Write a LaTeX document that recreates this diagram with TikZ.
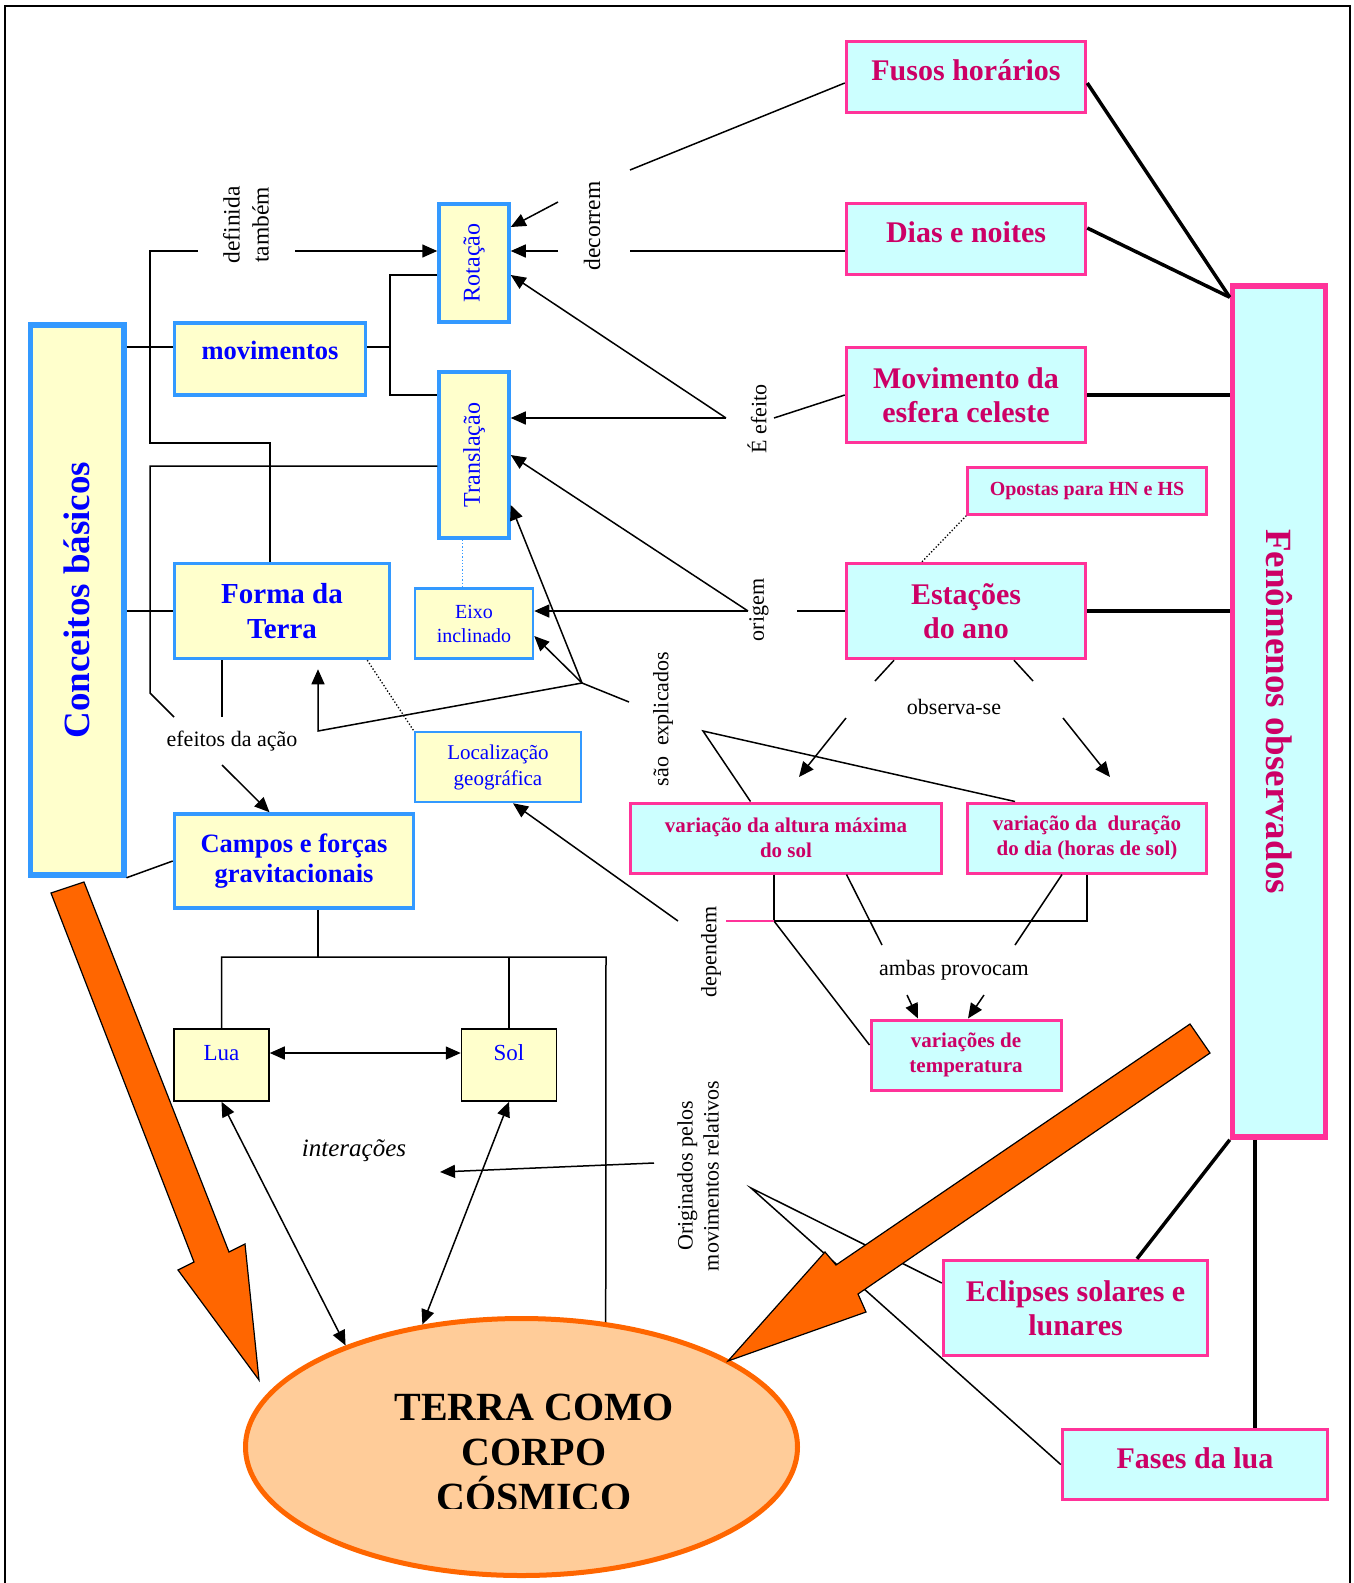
\documentclass[tikz,border=0pt]{standalone}
\usepackage{fontspec}
\setmainfont{Liberation Serif}
\usepackage{graphicx}
\usetikzlibrary{arrows.meta,positioning,shapes.geometric}
\definecolor{pinkline}{HTML}{FF3399}
\definecolor{pinktext}{HTML}{CC0066}
\definecolor{aqua}{HTML}{CCFFFF}
\definecolor{blueline}{HTML}{3399FF}
\definecolor{bluetext}{HTML}{0000FF}
\definecolor{cream}{HTML}{FFFFCC}
\definecolor{peach}{HTML}{FFCC99}
\definecolor{flame}{HTML}{FF6600}
\newcommand{\setfs}[2]{\fontsize{#1}{#2}\selectfont}

\begin{document}
\begin{tikzpicture}[x=1pt, y=-1pt,
    wh/.style 2 args={minimum width=#1, minimum height=#2},
    fenom/.style={draw=pinkline, fill=aqua, line width=3.5pt, text=pinktext, align=center, inner sep=0pt, font=\setfs{30}{34}\bfseries},
    conc/.style={draw=blueline, fill=cream, line width=3.5pt, text=bluetext, align=center, inner sep=0pt, font=\setfs{26.5}{30}\bfseries},
    body/.style={draw, fill=cream, line width=1.5pt, text=bluetext, inner sep=0pt, font=\setfs{23}{27}},
    linker/.style={text=black, inner sep=0pt, align=center, font=\setfs{22}{26}},
    link/.style={line width=1.5pt},
    arr/.style={link, -{Triangle[length=15pt,width=13pt]}},
    dual/.style={link, {Triangle[length=15pt,width=13pt]}-{Triangle[length=15pt,width=13pt]}},
    heavy/.style={line width=3.5pt},
    bigarrow/.style={fill=flame, draw=black, line width=1.2pt, line join=miter}
]
    \useasboundingbox (0,0) rectangle (1353,1583);
    \draw[line width=1.5pt] (5,1583) -- (5,6) -- (1350,6) -- (1350,1583);

    % fenomenos observados
    \node[fenom, wh={239pt}{71pt}, text height=21pt, text depth=14pt] (fusos) at (966,77) {Fusos horários};
    \node[fenom, wh={239pt}{71pt}, text height=21pt, text depth=14pt] (dias) at (966,239) {Dias e noites};
    \node[fenom, wh={239pt}{95pt}] (esfera) at (966,395) {Movimento da\\esfera celeste};
    \node[fenom, wh={239pt}{47pt}, line width=2.5pt, font=\setfs{20}{24}\bfseries] (opostas) at (1087,491) {Opostas para HN e HS};
    \node[fenom, wh={239pt}{95pt}] (estacoes) at (966,611) {Estações\\do ano};
    \node[fenom, wh={311pt}{70pt}, line width=3pt, font=\setfs{21}{24.5}\bfseries] (altura) at (786,838) {variação da altura máxima\\do sol};
    \node[fenom, wh={239pt}{70pt}, line width=3pt, font=\setfs{21}{24.5}\bfseries] (duracao) at (1087,838) {variação da\ \ duração\\do dia (horas de sol)};
    \node[fenom, wh={190pt}{70pt}, line width=3pt, font=\setfs{21}{25}\bfseries] (temperatura) at (966,1055) {variações de\\temperatura};
    \node[fenom, wh={93pt}{851pt}, line width=5.5pt, font=\setfs{37}{40}\bfseries] (fenomenos) at (1279,711.5) {\rotatebox{-90}{Fenômenos observados}};
    \node[fenom, wh={264pt}{95pt}] (eclipses) at (1075.5,1308) {Eclipses solares e\\lunares};
    \node[fenom, wh={265pt}{70pt}, text height=21pt, text depth=14pt] (fases) at (1195,1464.5) {Fases da lua};

    % conceitos basicos
    \node[conc, wh={93.5pt}{550pt}, line width=5.5pt, font=\setfs{37}{40}\bfseries] (conceitos) at (77,600) {\rotatebox{90}{Conceitos básicos}};
    \node[conc, wh={191pt}{72pt}, text height=18pt, text depth=18pt] (movimentos) at (270,359) {movimentos};
    \node[conc, wh={70pt}{118pt}, font=\setfs{24}{28}] (rotacao) at (474,263) {\rotatebox{90}{Rotação}};
    \node[conc, wh={70pt}{166pt}, font=\setfs{24}{28}] (translacao) at (474,455) {\rotatebox{90}{Translação}};
    \node[conc, wh={215pt}{95pt}, font=\setfs{29}{35}\bfseries] (forma) at (282,611) {Forma da\\Terra};
    \node[conc, wh={118pt}{70pt}, line width=2.5pt, font=\setfs{20}{24}] (eixo) at (474,623.5) {Eixo\\inclinado};
    \node[conc, wh={166pt}{70pt}, line width=2.5pt, font=\setfs{21}{26}] (localizacao) at (498,767) {Localização\\geográfica};
    \node[conc, wh={239pt}{94pt}] (campos) at (294,861) {Campos e forças\\gravitacionais};
    \node[body, wh={95pt}{72pt}, text height=16pt, text depth=25pt] (lua) at (221.5,1065) {Lua};
    \node[body, wh={95pt}{72pt}, text height=16pt, text depth=25pt, right=191pt of lua] (sol) {Sol};

    \node[ellipse, draw=flame, fill=peach, line width=5pt, wh={552pt}{257pt}] (terra) at (521.5,1447) {};
    \begin{scope}
        \clip (240,1300) rectangle (805,1508);
        \node[font=\setfs{40}{45}\bfseries, align=center, inner sep=0pt] (terralabel) at (534,1452) {TERRA COMO\\CORPO\\CÓSMICO};
    \end{scope}

    % frases de ligacao
    \node[linker, rotate=90, font=\setfs{23.5}{29}] (definida) at (246,225) {definida\\também};
    \node[linker, rotate=90, font=\setfs{23.5}{28}] (decorrem) at (592,226) {decorrem};
    \node[linker, rotate=90] (efeito) at (757,419) {É efeito};
    \node[linker, rotate=90] (origem) at (759,610) {origem};
    \node[linker, rotate=90] (explicados) at (663,719) {são\ \ explicados};
    \node[linker] (observa) at (954,707) {observa-se};
    \node[linker] (efeitos) at (232,741) {efeitos da ação};
    \node[linker] (ambas) at (954,970) {ambas provocam};
    \node[linker, rotate=90] (dependem) at (711,952) {dependem};
    \node[linker, rotate=90] (originados) at (698,1176) {Originados pelos\\movimentos relativos};
    \node[linker, font=\setfs{25}{28}\itshape] (interacoes) at (354,1151) {interações};

    % definida tambem
    \coordinate (defA) at (270,443);
    \coordinate (defB) at (150,443);
    \coordinate (defC) at (150,251);
    \coordinate (defD) at (198,251);
    \coordinate (defE) at (295,251);
    \draw[link] (forma.north -| defA) -- (defA) -- (defB) -- (defC) -- (defD);
    \draw[arr] (defE) -- (rotacao.west |- defE);

    % movimentos
    \coordinate (movA) at (390,347);
    \coordinate (movB) at (390,275);
    \coordinate (movC) at (390,395);
    \draw[link] (conceitos.east |- movA) -- (movimentos.west |- movA);
    \draw[link] (movimentos.east |- movA) -- (movA);
    \draw[link] (rotacao.west |- movB) -- (movB) -- (movC) -- (translacao.west |- movC);
    \draw[link] (conceitos.east |- forma.west) -- (forma.west);
    \draw[link] (conceitos.south east) -- (campos.west);

    % efeitos da acao
    \coordinate (efA) at (150,466);
    \coordinate (efB) at (150,693);
    \coordinate (efC) at (174,717);
    \coordinate (efD) at (222,717);
    \coordinate (efE) at (222,765);
    \draw[link] (translacao.west |- efA) -- (efA) -- (efB) -- (efC);
    \draw[link] (forma.south -| efD) -- (efD);
    \draw[arr] (efE) -- ([xshift=-24.5pt]campos.north);

    % pontilhados
    \draw[blueline, dotted, line width=1.3pt] ([xshift=-11.5pt]translacao.south) -- ([xshift=-11.5pt]eixo.north);
    \draw[dotted, line width=1.3pt] ([xshift=-24pt]forma.south east) -- (localizacao.north west);
    \draw[dotted, line width=1.3pt] ([xshift=-44pt]estacoes.north) -- (opostas.south west);

    % sao explicados
    \coordinate (expA) at (582,683);
    \coordinate (expB) at (629,702);
    \coordinate (expC) at (703,731);
    \coordinate (expD) at (318,731);
    \draw[link] ([xshift=-35.5pt]altura.north) -- (expC) -- ([xshift=-72pt]duracao.north);
    \draw[link] (expB) -- (expA);
    \draw[arr] (expA) -- ([yshift=-50pt]translacao.east);
    \draw[arr] (expA) -- ([yshift=-12.5pt]eixo.east);
    \draw[arr] (expA) -- (expD) -- ([xshift=36pt,yshift=-9pt]forma.south);

    % origem
    \coordinate (oriA) at (748,611);
    \coordinate (oriB) at (797,611);
    \draw[link] (estacoes.west |- oriB) -- (oriB);
    \draw[arr] (oriA) -- (eixo.east |- oriA);
    \draw[arr] (oriA) -- (translacao.east);

    % e efeito
    \coordinate (efeA) at (726,418);
    \coordinate (efeB) at (774,418);
    \draw[link] (esfera.west) -- (efeB);
    \draw[arr] (efeA) -- (translacao.east |- efeA);
    \draw[arr] (efeA) -- ([yshift=-12pt]rotacao.east);

    % decorrem
    \coordinate (decA) at (630,170);
    \coordinate (decB) at (630,251);
    \coordinate (decC) at (558,202);
    \coordinate (decD) at (558,251);
    \draw[link] ([yshift=-6pt]fusos.west) -- (decA);
    \draw[link] (dias.west |- decB) -- (decB);
    \draw[arr] (decC) -- ([yshift=36pt]rotacao.east);
    \draw[arr] (decD) -- (rotacao.east |- decD);

    % observa-se
    \coordinate (obsA) at (875,681);
    \coordinate (obsB) at (1033,681);
    \coordinate (obsC) at (846,718);
    \coordinate (obsD) at (799,777);
    \coordinate (obsE) at (1063,718);
    \coordinate (obsF) at (1110,777);
    \draw[link] ([xshift=-72pt]estacoes.south) -- (obsA);
    \draw[link] ([xshift=48pt]estacoes.south) -- (obsB);
    \draw[arr] (obsC) -- (obsD);
    \draw[arr] (obsE) -- (obsF);

    % ambas provocam
    \coordinate (ambA) at (882,945);
    \coordinate (ambB) at (1015,945);
    \coordinate (ambC) at (907,995);
    \coordinate (ambD) at (984,995);
    \draw[link] ([xshift=60.5pt]altura.south) -- (ambA);
    \draw[link] ([xshift=-25pt]duracao.south) -- (ambB);
    \draw[arr] (ambC) -- ([xshift=-48pt]temperatura.north);
    \draw[arr] (ambD) -- ([xshift=2pt]temperatura.north);

    % dependem
    \coordinate (depA) at (774,921);
    \coordinate (depB) at (726,921);
    \coordinate (depC) at (678,921);
    \draw[link] ([xshift=-12pt]altura.south) -- (depA);
    \draw[link] (depA) -| (duracao.south);
    \draw[link] (depA) -- ([yshift=10pt]temperatura.west);
    \draw[link, pinkline] (depA) -- (depB);
    \draw[arr] (depC) -- ([xshift=15pt]localizacao.south);

    % originados
    \coordinate (orgA) at (654,1163);
    \coordinate (orgB) at (440,1172);
    \coordinate (orgC) at (751,1188);
    \draw[arr] (orgA) -- (orgB);
    \draw[link] ([yshift=25pt]eclipses.west) -- (orgC) -- (fases.west);

    % campos, lua, sol
    \coordinate (graA) at (318,957);
    \coordinate (graB) at (606,957);
    \draw[link] (campos.south -| graA) -- (graA);
    \draw[link] (lua.north) |- (graB) -- (terra.56);
    \draw[link] (sol.north) -- (sol.north |- graB);
    \draw[dual] ([yshift=12pt]lua.east) -- ([yshift=12pt]sol.west);
    \draw[dual] (lua.south) -- (terra.150);
    \draw[dual] (sol.south) -- (terra.129);

    % fenomenos
    \draw[heavy] ([yshift=-6pt]fusos.east) -- ([yshift=-14pt]fenomenos.north west);
    \draw[heavy] ([yshift=11pt]dias.east) -- ([yshift=-14pt]fenomenos.north west);
    \draw[heavy] (esfera.east) -- (fenomenos.west |- esfera.east);
    \draw[heavy] (estacoes.east) -- (fenomenos.west |- estacoes.east);
    \draw[heavy] (fenomenos.south west) -- ([xshift=61.5pt]eclipses.north);
    \coordinate (fenA) at ([xshift=-24pt]fenomenos.south);
    \draw[heavy] (fenA) -- (fenA |- fases.north);

    % setas grandes
    \draw[bigarrow] (51,893) -- (84,882) -- (229,1252) -- (245,1244) -- (259,1380) -- (178,1270) -- (194,1262) -- cycle;
    \draw[bigarrow] (1190,1024) -- (1210,1053) -- (858,1294) -- (866,1312) -- (728,1361) -- (825,1252) -- (836,1265) -- cycle;
\end{tikzpicture}
\end{document}
